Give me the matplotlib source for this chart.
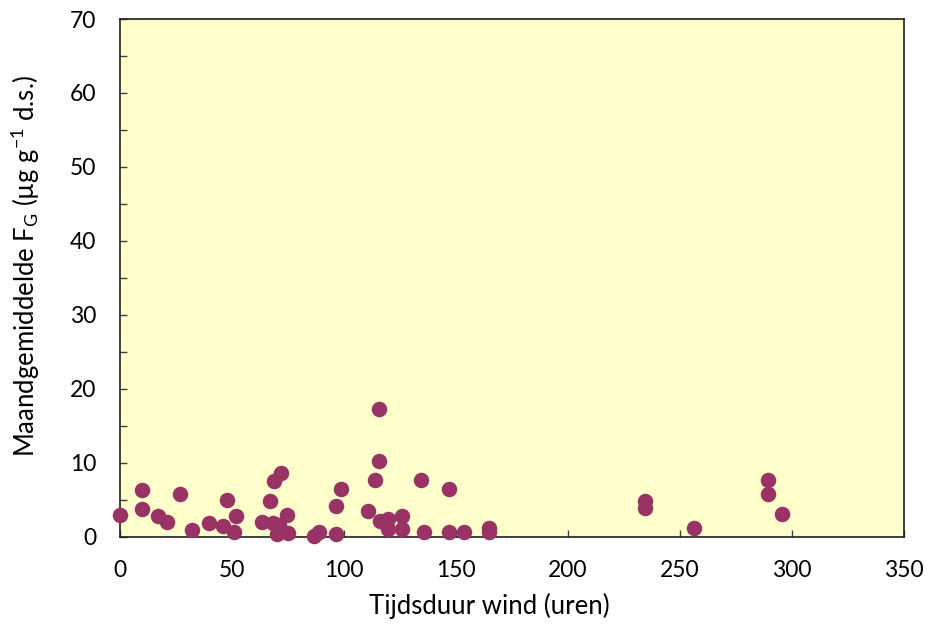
import matplotlib
matplotlib.use("Agg")
import matplotlib.pyplot as plt
from matplotlib.ticker import MultipleLocator

x_hours = [0, 9.7, 9.7, 16.8, 20.8, 26.7, 32, 39.8, 45.8, 47.6, 50.8, 51.7,
           63.6, 66.9, 68.8, 71.8, 68.4, 69.9, 71, 74.7, 75,
           86.5, 88.9, 96.6, 96.6, 98.8, 110.7, 113.7,
           115.6, 115.6, 115.9, 119.6, 119.6, 125.9, 125.9, 134.5, 135.7,
           146.7, 146.7, 153.8, 164.7, 164.7,
           234.5, 234.5, 256.4, 289.5, 289.5, 295.5]
y_fg = [3.0, 6.3, 3.8, 2.8, 2.0, 5.8, 0.95, 1.85, 1.5, 5.0, 0.6, 2.8,
        2.0, 4.8, 7.5, 8.6, 1.85, 0.3, 1.6, 2.9, 0.5,
        0.05, 0.6, 0.3, 4.1, 6.4, 3.5, 7.6,
        17.25, 10.3, 2.07, 2.4, 1.04, 2.75, 1.04, 7.7, 0.6,
        6.45, 0.7, 0.6, 1.2, 0.6,
        4.8, 3.9, 1.2, 7.6, 5.8, 3.1]

plt.rcParams['font.family'] = ['Lato', 'DejaVu Sans']
plt.rcParams['mathtext.default'] = 'regular'

fig = plt.figure(figsize=(9.27, 6.25), dpi=100)
ax = fig.add_axes([0.1294, 0.1413, 0.8458, 0.8283])
ax.set_facecolor('#FFFFCC')
ax.scatter(x_hours, y_fg, s=125, color='#993366', zorder=3, clip_on=False, linewidths=0)
ax.set_xlim(0, 350)
ax.set_ylim(0, 70)
ax.xaxis.set_major_locator(MultipleLocator(50))
ax.yaxis.set_major_locator(MultipleLocator(10))
ax.yaxis.set_minor_locator(MultipleLocator(5))
ax.tick_params(which='both', direction='in', labelsize=16.5, length=5, width=1, color='#404040')
ax.tick_params(axis='x', pad=17)
ax.tick_params(axis='y', pad=17)
for sp in ax.spines.values():
    sp.set_color('#202020')
    sp.set_linewidth(1.2)
ax.set_xlabel('Tijdsduur wind (uren)', fontsize=18.5, va='center')
ax.xaxis.set_label_coords(0.4707, -0.133)
ax.set_ylabel('Maandgemiddelde F$_G$ (µg g$^{-1}$ d.s.)', fontsize=18.5, va='center')
ax.yaxis.set_label_coords(-0.12, 0.523)
fig.savefig('out.png', dpi=100)
